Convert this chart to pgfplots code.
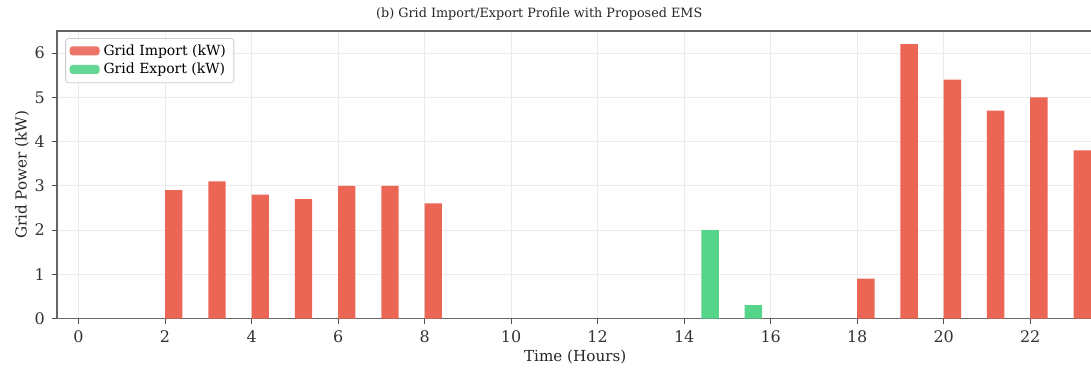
\documentclass[border=0pt]{standalone}
\usepackage{pgfplots}
\pgfplotsset{compat=1.18}
\usepackage{fontspec}
\setmainfont{DejaVu Serif}
\definecolor{impc}{RGB}{236,102,86}
\definecolor{expc}{RGB}{86,212,138}
\begin{document}
\begin{tikzpicture}
\begin{axis}[
  name=ax,
  scale only axis,
  width=519pt, height=144pt,
  xmin=-0.5, xmax=23.46,
  ymin=0, ymax=6.5,
  xtick={0,2,...,22},
  ytick={0,1,...,6},
  tick align=outside,
  tick pos=left,
  major tick length=2.5pt,
  tick style={black!70, line width=0.4pt},
  /pgf/number format/assume math mode=true,
  ticklabel style={font=\fontsize{8}{9}\selectfont, text=black!80},
  grid=major,
  grid style={black!8, line width=0.4pt},
  axis line style={black!60, line width=0.6pt},
  xlabel={Time (Hours)},
  ylabel={Grid Power (kW)},
  label style={font=\fontsize{7.6}{9}\selectfont, text=black!85},
  xlabel style={yshift=3pt},
  ylabel style={yshift=-4pt},
  legend style={at={(0.008,0.975)}, anchor=north west, font=\fontsize{7}{8}\selectfont,
    draw=black!20, rounded corners=1.5pt, fill=white, fill opacity=0.9, text opacity=1,
    inner xsep=2pt, inner ysep=1pt, row sep=-1.5pt},
  legend cell align=left,
  legend image code/.code={\fill[#1] (0pt,-2pt) rectangle (15pt,2.5pt);},
]
\addplot[ybar, bar width=0.4, bar shift=0pt, fill=impc, draw=none] coordinates {
 (2.2,2.9) (3.2,3.1) (4.2,2.8) (5.2,2.7) (6.2,3.0) (7.2,3.0) (8.2,2.6)
 (18.2,0.9) (19.2,6.2) (20.2,5.4) (21.2,4.7) (22.2,5.0) (23.2,3.8)};
\addlegendentry{Grid Import (kW)}
\addplot[ybar, bar width=0.4, bar shift=0pt, fill=expc, draw=none] coordinates {
 (14.6,2.0) (15.6,0.3)};
\addlegendentry{Grid Export (kW)}
\end{axis}
\node[font=\fontsize{6.4}{7}\selectfont, text=black!85] at ([xshift=241.5pt,yshift=8.5pt]ax.north west) {(b) Grid Import/Export Profile with Proposed EMS};
\pgfresetboundingbox
\path[use as bounding box] ([xshift=-28.5pt,yshift=-26pt]ax.south west) rectangle ([xshift=-1.2pt,yshift=15.5pt]ax.north east);
\end{tikzpicture}
\end{document}
